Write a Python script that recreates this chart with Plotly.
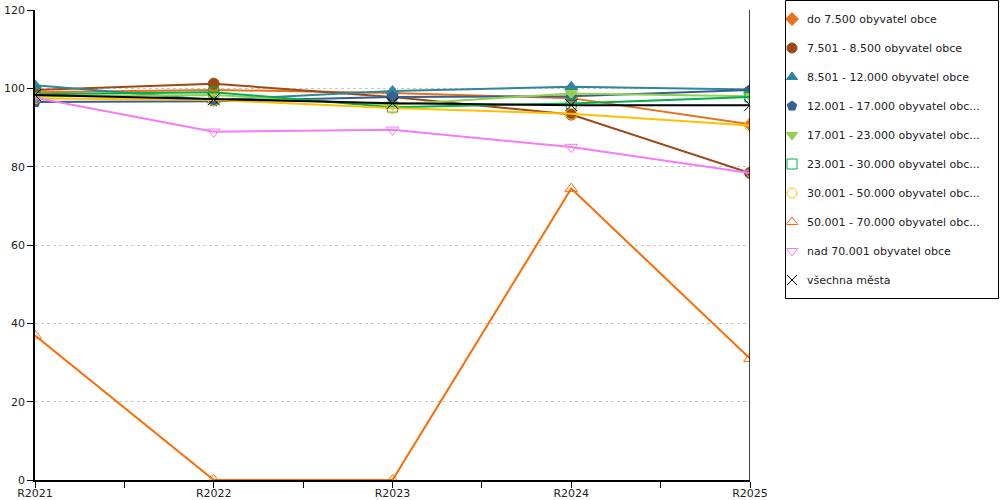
import plotly.graph_objects as go

categories = ["R2021", "R2022", "R2023", "R2024", "R2025"]

series_names = [
    "do 7.500 obyvatel obce",
    "7.501 - 8.500 obyvatel obce",
    "8.501 - 12.000 obyvatel obce",
    "12.001 - 17.000 obyvatel obc...",
    "17.001 - 23.000 obyvatel obc...",
    "23.001 - 30.000 obyvatel obc...",
    "30.001 - 50.000 obyvatel obc...",
    "50.001 - 70.000 obyvatel obc...",
    "nad 70.001 obyvatel obce",
    "všechna města",
]

do_7500 = [99.0, 99.6, 98.8, 97.5, 90.8]
od_7501 = [99.6, 101.2, 97.8, 93.3, 78.4]
od_8501 = [100.8, 97.0, 99.3, 100.4, 99.7]
od_12001 = [96.5, 96.7, 97.8, 98.0, 99.6]
od_17001 = [98.0, 98.3, 95.8, 98.7, 98.0]
od_23001 = [98.5, 99.0, 95.2, 96.1, 97.8]
od_30001 = [97.5, 97.0, 95.0, 93.5, 90.5]
od_50001 = [36.9, 0.0, 0.0, 74.4, 31.0]
nad_70001 = [97.6, 88.9, 89.4, 85.0, 78.4]
vsechna = [98.3, 97.2, 96.2, 95.7, 95.7]

values = [do_7500, od_7501, od_8501, od_12001, od_17001,
          od_23001, od_30001, od_50001, nad_70001, vsechna]

colors = ["#e8711a", "#9c4a13", "#31859c", "#366092", "#92d050",
          "#00b050", "#ffc000", "#ff6a00", "#f47cf4", "#000000"]
symbols = ["diamond", "circle", "triangle-up", "pentagon", "triangle-down",
           "square-open", "circle-open", "triangle-up-open", "triangle-down-open",
           "x-thin-open"]
sizes = [10, 11, 11, 11, 11, 10, 11, 11, 11, 12]

xs = list(range(len(categories)))

# Layout geometry (pixels)
W, H = 1000, 500
ML, MR, MT, MB = 35, 0, 0, 20
PW, PH = W - ML - MR, H - MT - MB
plot_right = 750
plot_top = 10
leg_left, leg_right, leg_top, leg_bottom = 785, 999, 0, 299

fig = go.Figure()
for i, (name, vals) in enumerate(zip(series_names, values)):
    fig.add_trace(go.Scatter(
        x=xs, y=vals, name=name, mode="lines+markers",
        line=dict(color=colors[i], width=2),
        marker=dict(symbol=symbols[i], size=sizes[i], color=colors[i],
                    line=dict(color=colors[i], width=1)),
        showlegend=False, xaxis="x", yaxis="y",
    ))

# Custom legend drawn on an auxiliary axis pair
leg_rows = list(range(len(series_names)))
row_y = [19 + 29 * r for r in leg_rows]
fig.add_trace(go.Scatter(
    x=[7] * len(series_names), y=row_y, mode="markers",
    marker=dict(symbol=symbols, size=10, color=colors, opacity=1,
                line=dict(color=colors, width=1)),
    showlegend=False, hoverinfo="skip", xaxis="x2", yaxis="y2",
))
for r, name in zip(leg_rows, series_names):
    fig.add_annotation(x=20, y=row_y[r], xref="x2", yref="y2", text=name,
                       showarrow=False, xanchor="left", yanchor="middle",
                       font=dict(family="DejaVu Sans", size=11, color="#222"))
fig.add_shape(type="rect", xref="x2", yref="y2", x0=0.5, x1=leg_right - leg_left - 0.5,
              y0=0.5, y1=leg_bottom - leg_top - 0.5,
              line=dict(color="black", width=1), fillcolor="rgba(0,0,0,0)")

fig.add_shape(type="line", xref="x", yref="y domain", x0=4, x1=4, y0=0, y1=1,
              line=dict(color="black", width=1.5))

fig.update_layout(
    width=W, height=H,
    margin=dict(l=ML, r=MR, t=MT, b=MB, autoexpand=False),
    paper_bgcolor="white", plot_bgcolor="white",
    font=dict(family="DejaVu Sans", size=11, color="#222"),
    showlegend=False,
    xaxis=dict(
        domain=[0, (plot_right - ML) / PW],
        range=[0, 4], tickmode="array", tickvals=xs, ticktext=categories,
        showgrid=False, showline=True, linecolor="black", linewidth=1.5,
        ticks="outside", ticklen=6, tickcolor="black", zeroline=False,
        automargin=False, ticklabelstandoff=-4,
        minor=dict(dtick=0.5, ticks="outside", ticklen=6, tickcolor="black"),
    ),
    yaxis=dict(
        domain=[0, (H - MB - plot_top) / PH],
        range=[0, 120], dtick=20, showgrid=True, gridcolor="#c8c8c8",
        griddash="dot", showline=True, linecolor="black", linewidth=1.5,
        ticks="outside", ticklen=6, tickcolor="black", zeroline=False,
        automargin=False,
    ),
    xaxis2=dict(
        domain=[(leg_left - ML) / PW, (leg_right - ML) / PW],
        range=[0, leg_right - leg_left], visible=False, fixedrange=True,
        anchor="y2",
    ),
    yaxis2=dict(
        domain=[(H - MB - leg_bottom) / PH, (H - MB - leg_top) / PH],
        range=[leg_bottom - leg_top, 0], visible=False, fixedrange=True,
        anchor="x2",
    ),
)

fig.write_html("out.html", config={"displayModeBar": False},
               post_script="document.body.style.margin='0';")
